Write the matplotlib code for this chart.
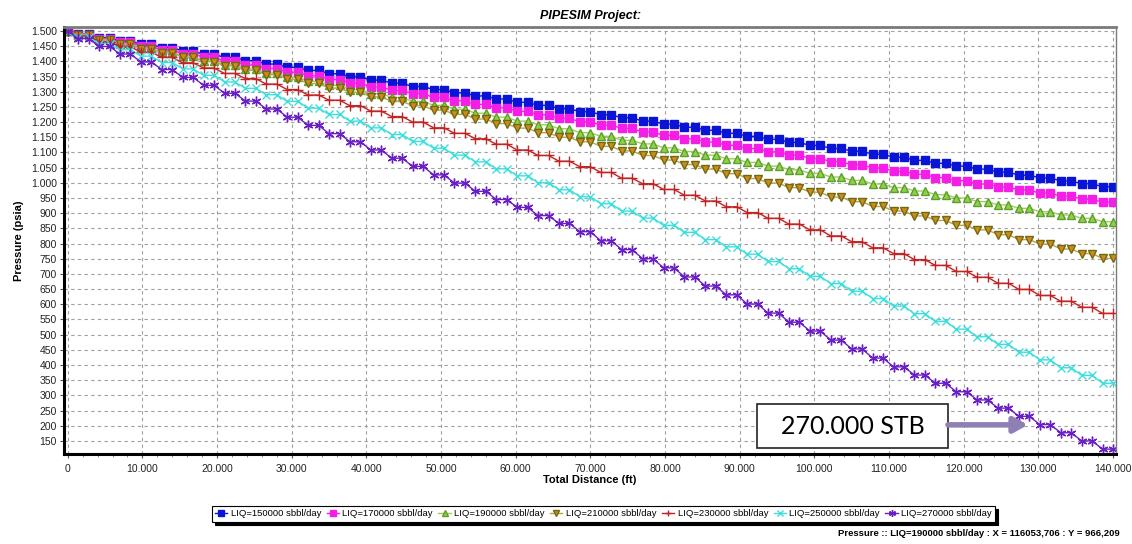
import numpy as np
import matplotlib
matplotlib.use("Agg")
import matplotlib.pyplot as plt
from matplotlib.patches import Rectangle
from matplotlib.ticker import FuncFormatter, MultipleLocator

plt.rcParams['font.family'] = ['Liberation Sans', 'DejaVu Sans']

# station spacing along the line (ft); profiles are reported per pair of stations
distance = np.arange(0, 140001, 1400)

# pressure level (psia) at the inlet and then for each pair of stations
p150 = [1500, 1489, 1478, 1467, 1456, 1445, 1434, 1423, 1413, 1402, 1391,
        1380, 1370, 1359, 1349, 1338, 1328, 1317, 1307, 1296, 1286,
        1276, 1265, 1255, 1244, 1234, 1224, 1214, 1203, 1193, 1183,
        1173, 1163, 1153, 1143, 1133, 1123, 1113, 1104, 1094, 1084,
        1074, 1064, 1055, 1045, 1035, 1025, 1016, 1006, 997, 987]
p170 = [1500, 1487, 1475, 1462, 1450, 1437, 1425, 1413, 1400, 1388, 1376,
        1364, 1352, 1340, 1328, 1316, 1304, 1293, 1281, 1270, 1258,
        1247, 1235, 1224, 1212, 1201, 1190, 1179, 1167, 1156, 1145,
        1134, 1123, 1113, 1102, 1091, 1080, 1070, 1059, 1049, 1038,
        1028, 1017, 1007, 996, 986, 976, 966, 956, 946, 936]
p190 = [1500, 1486, 1472, 1458, 1444, 1430, 1416, 1402, 1389, 1375, 1361,
        1348, 1334, 1321, 1307, 1294, 1281, 1268, 1255, 1242, 1229,
        1216, 1203, 1191, 1178, 1165, 1153, 1140, 1128, 1115, 1103,
        1091, 1079, 1067, 1055, 1043, 1031, 1019, 1008, 996, 984,
        973, 961, 950, 938, 927, 916, 905, 894, 883, 872]
p210 = [1500, 1486, 1471, 1457, 1442, 1428, 1414, 1399, 1385, 1370, 1356,
        1341, 1327, 1312, 1298, 1283, 1268, 1254, 1239, 1225, 1210,
        1195, 1180, 1165, 1150, 1135, 1120, 1105, 1090, 1075, 1060,
        1045, 1030, 1014, 999, 984, 969, 953, 938, 922, 907,
        891, 876, 860, 845, 829, 813, 798, 782, 767, 751]
p230 = [1500, 1483, 1465, 1448, 1430, 1413, 1395, 1378, 1360, 1343, 1325,
        1307, 1289, 1272, 1254, 1236, 1218, 1200, 1181, 1163, 1145,
        1127, 1108, 1090, 1071, 1053, 1034, 1015, 997, 978, 959,
        940, 921, 902, 883, 864, 845, 825, 806, 786, 767,
        747, 728, 708, 689, 669, 649, 629, 610, 590, 570]
p250 = [1500, 1479, 1458, 1438, 1417, 1396, 1375, 1354, 1332, 1311, 1290,
        1268, 1246, 1225, 1203, 1181, 1159, 1136, 1114, 1091, 1069,
        1046, 1023, 1000, 977, 954, 931, 907, 884, 860, 837,
        813, 789, 765, 741, 717, 692, 668, 643, 619, 594,
        569, 544, 518, 493, 468, 442, 417, 391, 366, 340]
p270 = [1500, 1475, 1449, 1424, 1398, 1373, 1347, 1321, 1295, 1269, 1243,
        1216, 1189, 1162, 1135, 1108, 1081, 1054, 1026, 999, 972,
        945, 919, 892, 866, 839, 809, 780, 750, 720, 690,
        660, 631, 601, 571, 541, 512, 482, 453, 423, 394,
        367, 340, 312, 285, 258, 231, 204, 177, 150, 123]

labels = ['LIQ=150000 sbbl/day', 'LIQ=170000 sbbl/day', 'LIQ=190000 sbbl/day',
          'LIQ=210000 sbbl/day', 'LIQ=230000 sbbl/day', 'LIQ=250000 sbbl/day',
          'LIQ=270000 sbbl/day']
profiles = [p150, p170, p190, p210, p230, p250, p270]

# (marker, face, edge, line colour, marker size)
styles = [
    ('s', '#0a14d6', '#0a14d6', '#0a14d6', 5.5),
    ('s', '#f51ee6', '#f51ee6', '#f51ee6', 5.5),
    ('^', '#8fd14a', '#5e9e2a', '#9ccf5a', 6),
    ('v', '#d4891c', '#6e6a10', '#b9a34a', 6),
    ('+', '#c02424', '#c02424', '#c02424', 7),
    ('x', '#3fdede', '#3fdede', '#3fdede', 5.5),
    ((6, 2, 0), '#6a1fc4', '#6a1fc4', '#6a1fc4', 7),
]


def expand(levels):
    # inlet value, then each level shared by two consecutive stations
    lv = np.asarray(levels, dtype=float)
    return np.concatenate([lv[:1], np.repeat(lv[1:], 2)])


fig = plt.figure(figsize=(11.32, 5.44), dpi=100)
ax = fig.add_axes([64 / 1132, 1 - 454 / 544, (1116 - 64) / 1132, (454 - 27) / 544])

for prof, lab, (mk, fc, ec, lc, ms) in zip(profiles, labels, styles):
    ax.plot(distance, expand(prof), color=lc, lw=1.0, marker=mk, markersize=ms,
            markerfacecolor=fc, markeredgecolor=ec, markeredgewidth=1.0, label=lab)

ax.set_xlim(-500, 140400)
ax.set_ylim(107, 1513)
ax.xaxis.set_major_locator(MultipleLocator(10000))
ax.xaxis.set_minor_locator(MultipleLocator(2000))
ax.set_yticks(np.arange(150, 1501, 50))

thousands = FuncFormatter(lambda v, pos: f"{int(round(v)):,}".replace(",", "."))
ax.xaxis.set_major_formatter(thousands)
ax.yaxis.set_major_formatter(thousands)
ax.tick_params(axis='both', labelsize=7.5, length=3, width=0.8, pad=2, color='#555555',
               labelcolor='#222222')
ax.tick_params(axis='x', which='minor', length=2, color='#777777')
ax.tick_params(axis='x', pad=4)

ax.grid(True, which='major', color='#a0a0a0', linestyle=(0, (3, 3)), linewidth=0.8)
ax.set_axisbelow(True)

ax.spines['left'].set_linewidth(2.2)
ax.spines['bottom'].set_linewidth(2.2)
ax.spines['top'].set_color('#7a7a7a')
ax.spines['top'].set_linewidth(2.0)
ax.spines['right'].set_color('#7a7a7a')
ax.spines['right'].set_linewidth(1.0)

ax.set_title('PIPESIM Project:', fontsize=9, fontweight='bold', fontstyle='italic', pad=6)
ax.set_xlabel('Total Distance (ft)', fontsize=8, fontweight='bold', labelpad=1)
ax.set_ylabel('Pressure (psia)', fontsize=8, fontweight='bold', labelpad=5)

# callout for the highest rate case
ax.add_patch(Rectangle((92300, 127), 25600, 145, facecolor='white', edgecolor='#222222',
                       linewidth=1.2, zorder=5))
ax.text(105100, 199, '270.000 STB', fontsize=18, family='Lato', ha='center', va='center',
        zorder=6)
ax.annotate('', xy=(128600, 203), xytext=(117900, 203),
            arrowprops=dict(arrowstyle='-|>,head_length=0.8,head_width=0.45', lw=4,
                            color='#8f80b4', shrinkA=0, shrinkB=0), zorder=6)

leg = fig.legend(loc='center', bbox_to_anchor=(0.533, 1 - 514 / 544), ncol=7, fontsize=6.8,
                 frameon=True, fancybox=False, edgecolor='black', borderpad=0.35,
                 handlelength=1.3, handletextpad=0.35, columnspacing=0.6,
                 shadow={'color': 'black', 'alpha': 1.0})
leg.get_frame().set_linewidth(0.8)
for h in leg.legend_handles:
    h.set_markersize(5)

fig.text(1120 / 1132, 1 - 534 / 544, 'Pressure :: LIQ=190000 sbbl/day : X = 116053,706 : Y = 966,209',
         fontsize=6.8, fontweight='bold', ha='right', va='center')

fig.savefig('out.png', dpi=100, facecolor='white')
